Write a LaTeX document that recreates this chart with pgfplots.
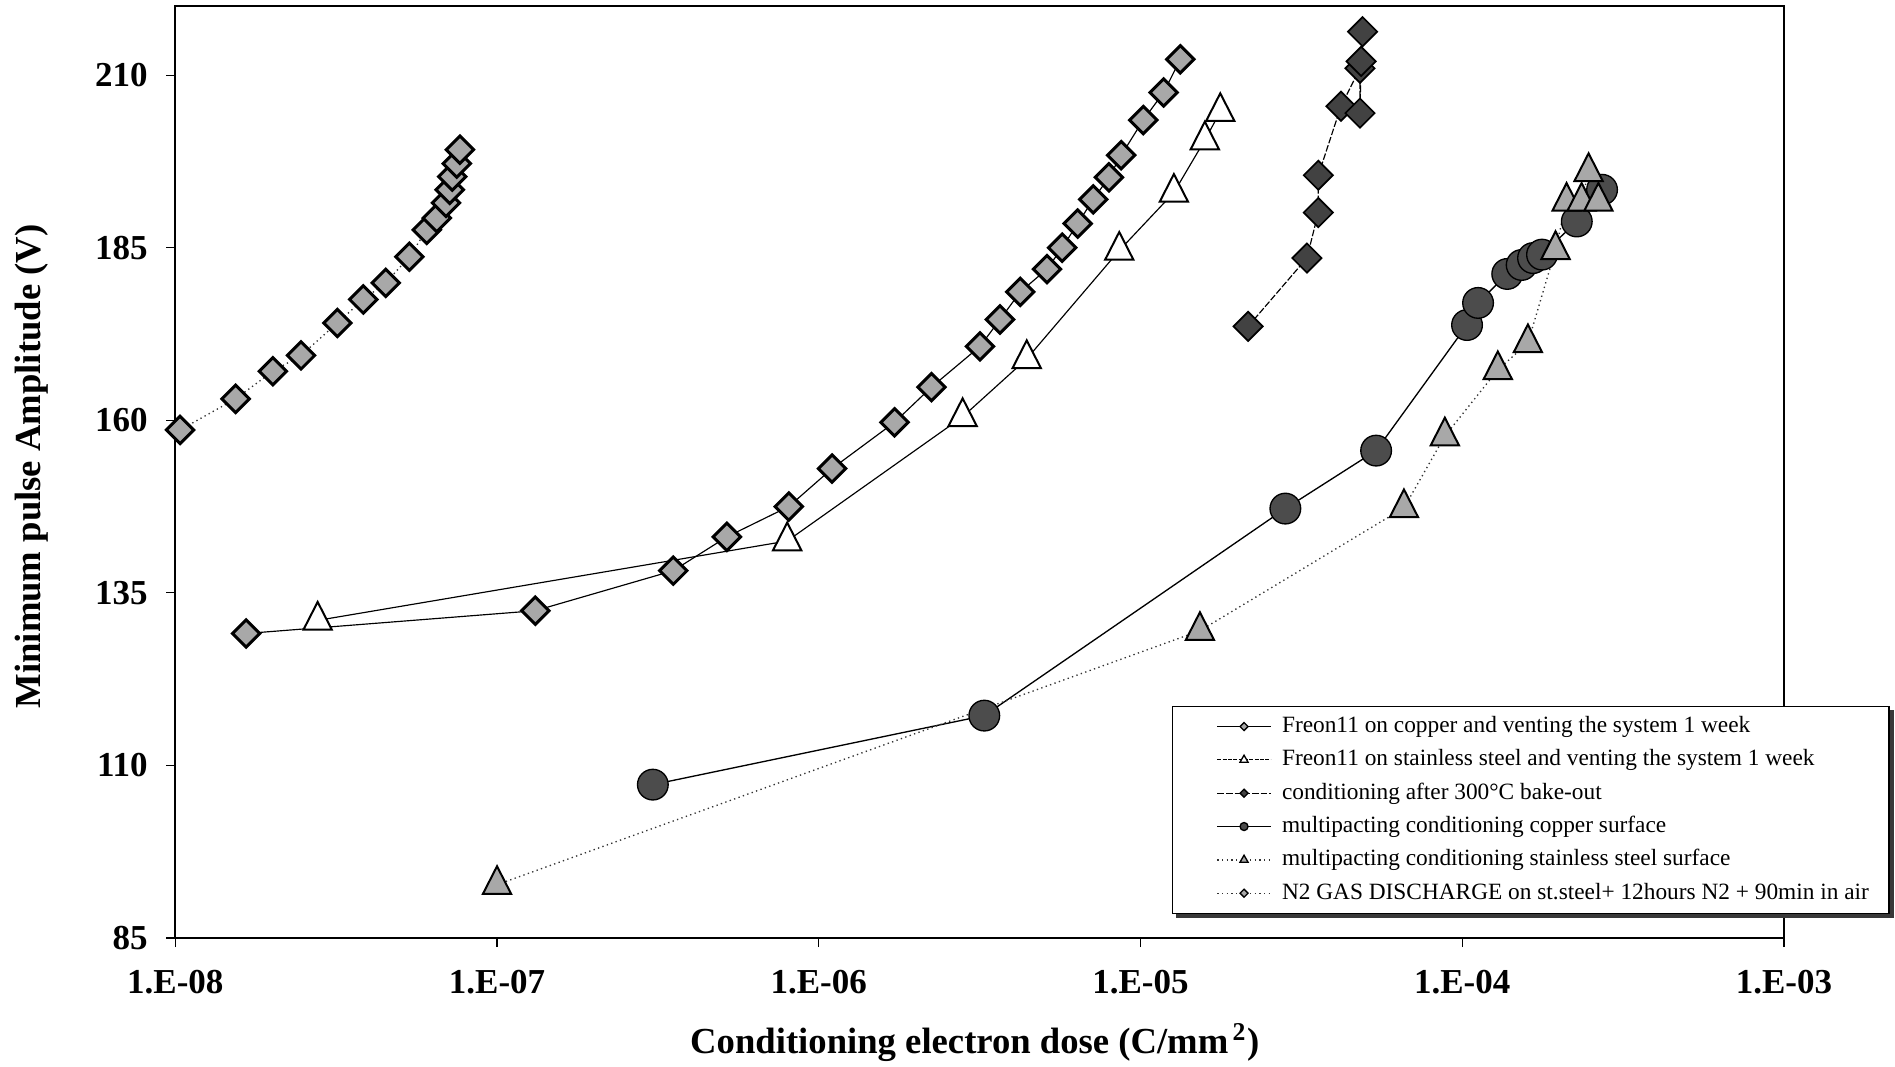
\documentclass[border=0pt]{standalone}
\usepackage{pgfplots}
\pgfplotsset{compat=1.18}
\usepackage{fontspec}
\setmainfont{Liberation Serif}

\definecolor{lightfill}{gray}{0.66}
\definecolor{darkfill}{gray}{0.26}
\definecolor{circfill}{gray}{0.30}
\definecolor{shadowgray}{gray}{0.22}

% conditioning runs: dose (C/mm^2) vs minimum pulse amplitude (V)
\pgfplotstableread{
x y
1.66e-8 129.1
1.315e-7 132.4
3.53e-7 138.2
5.18e-7 143.1
8.07e-7 147.5
1.10e-6 153.0
1.72e-6 159.7
2.24e-6 164.8
3.17e-6 170.7
3.66e-6 174.6
4.23e-6 178.6
5.12e-6 181.9
5.71e-6 185.0
6.38e-6 188.5
7.13e-6 192.0
7.98e-6 195.2
8.71e-6 198.4
1.02e-5 203.5
1.18e-5 207.5
1.33e-5 212.3
}\freoncu

\pgfplotstableread{
x y
2.77e-8 131.0
7.98e-7 142.5
2.80e-6 160.5
4.43e-6 168.9
8.59e-6 184.6
1.27e-5 193.0
1.585e-5 200.6
1.77e-5 204.7
}\freonss

\pgfplotstableread{
x y
2.16e-5 173.6
3.29e-5 183.5
3.57e-5 190.1
3.57e-5 195.5
4.20e-5 205.5
4.81e-5 211.0
4.81e-5 204.5
4.85e-5 212.0
4.90e-5 216.3
}\bakeout

\pgfplotstableread{
x y
3.05e-7 107.2
3.27e-6 117.2
2.82e-5 147.2
5.40e-5 155.6
1.035e-4 173.8
1.12e-4 177.0
1.38e-4 181.2
1.53e-4 182.5
1.66e-4 183.5
1.77e-4 184.0
2.27e-4 188.8
2.72e-4 193.4
}\multicu

\pgfplotstableread{
x y
1.0e-7 92.7
1.53e-5 129.5
6.59e-5 147.3
8.83e-5 157.7
1.29e-4 167.3
1.60e-4 171.2
1.95e-4 184.7
2.11e-4 191.7
2.35e-4 191.7
2.47e-4 196.0
2.65e-4 191.7
}\multiss

\pgfplotstableread{
x y
1.035e-8 158.6
1.54e-8 163.1
2.01e-8 167.1
2.46e-8 169.4
3.19e-8 174.1
3.84e-8 177.5
4.51e-8 179.9
5.34e-8 183.7
6.05e-8 187.6
6.50e-8 189.3
6.94e-8 191.5
7.13e-8 193.4
7.26e-8 195.3
7.50e-8 197.2
7.67e-8 199.2
}\ntwo

\begin{document}
\begin{tikzpicture}
\begin{axis}[
  scale only axis,
  width=482.6pt, height=279.5pt,
  xmode=log, log basis x=10,
  xmin=1e-8, xmax=1e-3,
  ymin=85, ymax=220,
  clip=false,
  xtick={1e-8,1e-7,1e-6,1e-5,1e-4,1e-3},
  xticklabels={1.E-08,1.E-07,1.E-06,1.E-05,1.E-04,1.E-03},
  ytick={85,110,135,160,185,210},
  yticklabels={85,110,135,160,185,210},
  xminorticks=false,
  tick pos=left,
  tick align=outside,
  major tick length=2.8pt,
  every tick/.style={black, line width=0.4pt},
  axis line style={line width=0.6pt},
  ticklabel style={font=\bfseries\fontsize{10.5}{12}\selectfont},
  xticklabel style={yshift=-3.4pt},
  yticklabel style={xshift=-2pt},
  xlabel={Conditioning electron dose (C/mm\textsuperscript{\,2})},
  ylabel={Minimum pulse Amplitude (V)},
  label style={font=\bfseries\fontsize{11}{13}\selectfont},
  xlabel style={at={(axis description cs:0.497,0)}, anchor=base, yshift=-34.8pt, inner sep=0pt},
  ylabel style={at={(axis description cs:-0.0891,0.506)}, anchor=center, inner sep=0pt},
  legend style={
    name=legbox,
    at={(axis description cs:0.6194,0.249)}, anchor=north west,
    draw=black, line width=0.4pt, fill=white,
    font=\fontsize{7}{8}\selectfont,
    inner xsep=2.8pt, inner ysep=1pt,
    row sep=0pt,
    nodes={inner xsep=3.2pt, inner ysep=1.6pt, text height=5.2pt, text depth=1.6pt},
  },
  legend cell align=left,
  legend image code/.code={\path (-10.5pt,0pt);
    \draw[mark repeat=2, mark phase=2, #1] plot coordinates {(0pt,0pt) (8pt,0pt) (16pt,0pt)};},
]

% Freon11 on copper
\addplot[black, line width=0.35pt, mark=square*, mark size=2.9pt,
  mark options={rotate=45, fill=lightfill, draw=black, line width=0.9pt, solid},
  legend image post style={mark size=0.85pt, mark options={rotate=45, fill=lightfill, draw=black, line width=0.4pt, solid}}]
  table {\freoncu};
\addlegendentry{Freon11 on copper and venting the system 1 week}

% Freon11 on stainless steel
\addplot[black, line width=0.35pt, mark=triangle*, mark size=4.9pt,
  mark options={yscale=1.13, fill=white, draw=black, line width=0.6pt, solid},
  legend image post style={dash pattern=on 1.2pt off 0.4pt, mark size=1.4pt, mark options={fill=white, draw=black, line width=0.4pt, solid}}]
  table {\freonss};
\addlegendentry{Freon11 on stainless steel and venting the system 1 week}

% conditioning after bake-out
\addplot[black, line width=0.35pt, dash pattern=on 2pt off 0.6pt, mark=square*, mark size=3.1pt,
  mark options={rotate=45, fill=darkfill, draw=black, line width=0.5pt, solid},
  legend image post style={mark size=0.85pt, mark options={rotate=45, fill=darkfill, draw=black, line width=0.4pt, solid}}]
  table {\bakeout};
\addlegendentry{conditioning after 300°C bake-out}

% multipacting, copper
\addplot[black, line width=0.4pt, mark=*, mark size=4.6pt,
  mark options={fill=circfill, draw=black, line width=0.4pt, solid},
  legend image post style={mark size=1.2pt, mark options={fill=circfill, draw=black, line width=0.4pt, solid}}]
  table {\multicu};
\addlegendentry{multipacting conditioning copper surface}

% multipacting, stainless steel
\addplot[black!80, line width=0.4pt, densely dotted, mark=triangle*, mark size=4.9pt,
  mark options={yscale=1.13, fill=lightfill, draw=black, line width=0.6pt, solid},
  legend image post style={mark size=1.4pt, mark options={fill=lightfill, draw=black, line width=0.4pt, solid}}]
  table {\multiss};
\addlegendentry{multipacting conditioning stainless steel surface}

% N2 glow discharge
\addplot[black!80, line width=0.4pt, densely dotted, mark=square*, mark size=2.9pt,
  mark options={rotate=45, fill=lightfill, draw=black, line width=0.9pt, solid},
  legend image post style={mark size=0.85pt, mark options={rotate=45, fill=lightfill, draw=black, line width=0.4pt, solid}}]
  table {\ntwo};
\addlegendentry{N2 GAS DISCHARGE on st.steel+ 12hours N2 + 90min in air}

\end{axis}
% shadow strips under and beside the legend box
\fill[shadowgray] ([xshift=1.2pt]legbox.south west) rectangle ([xshift=1.2pt,yshift=-1.2pt]legbox.south east);
\fill[shadowgray] ([yshift=-1.2pt]legbox.north east) rectangle ([xshift=1.2pt,yshift=-1.2pt]legbox.south east);
% page margins around the plot frame
\path (current axis.south west) ++(-52.6pt,-38.7pt);
\path (current axis.north east) ++(33.3pt,1.86pt);
\end{tikzpicture}
\end{document}
